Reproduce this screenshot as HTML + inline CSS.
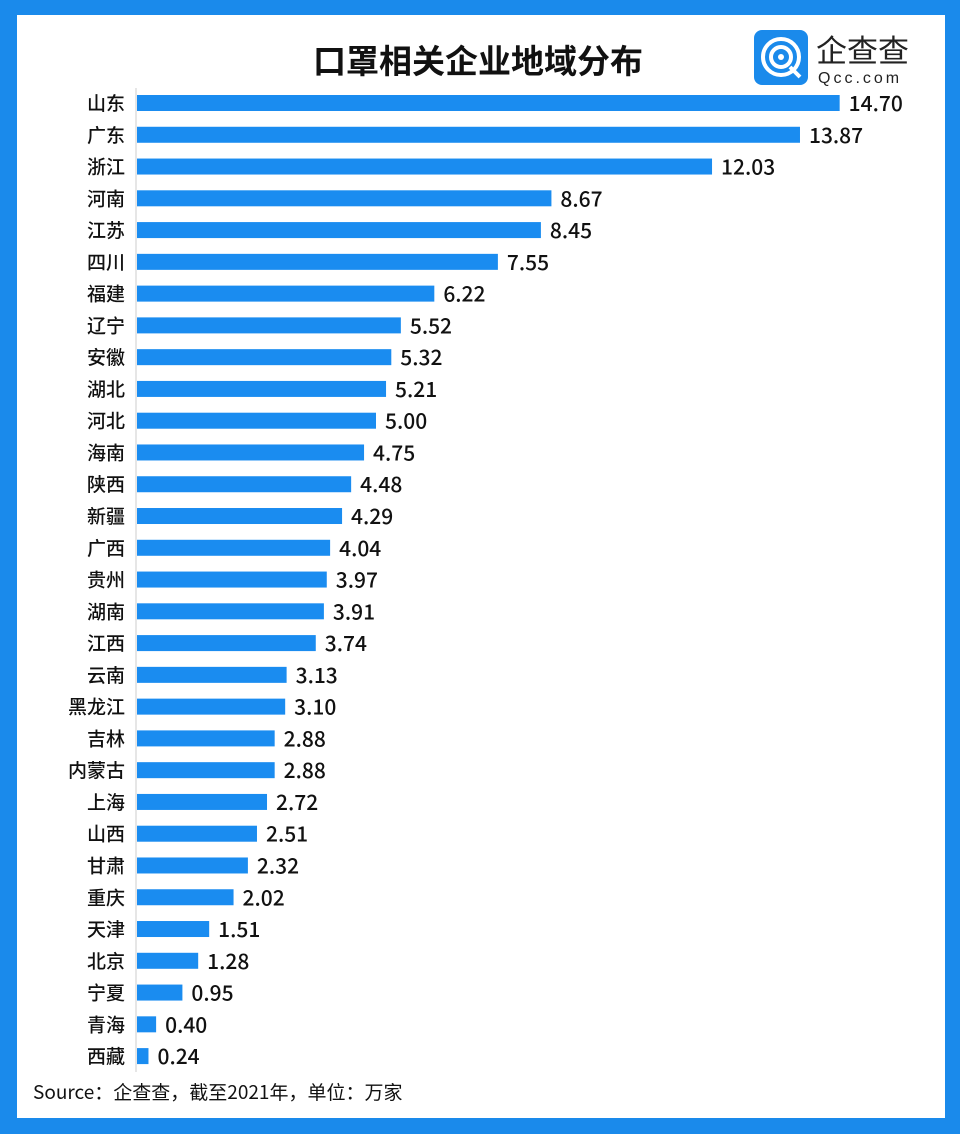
<!DOCTYPE html>
<html><head><meta charset="utf-8"><style>
body{margin:0;width:960px;height:1134px;background:#1a8aeb;overflow:hidden;font-family:"Liberation Sans","Noto Sans CJK SC",sans-serif}
#panel{position:absolute;left:17px;top:15px;width:928px;height:1103px;background:#fff}
</style></head><body>
<div id="panel"></div>
<svg width="960" height="1134" style="position:absolute;left:0;top:0">
<text x="478" y="73" text-anchor="middle" font-size="33" font-weight="bold" fill="#111" font-family="Noto Sans CJK SC,sans-serif">口罩相关企业地域分布</text>
<g>
<rect x="754" y="30" width="54" height="55" rx="8" fill="#1a8aeb"/>
<circle cx="781" cy="57" r="18" fill="none" stroke="#fff" stroke-width="4"/>
<circle cx="781" cy="57" r="10" fill="none" stroke="#fff" stroke-width="4"/>
<circle cx="781" cy="57" r="3" fill="#fff"/>
<line x1="790" y1="67" x2="800" y2="77" stroke="#fff" stroke-width="4"/>
<text x="816" y="62" font-size="31" fill="#222" font-family="Noto Sans CJK SC,sans-serif">企查查</text>
<text x="818" y="83" font-size="16" fill="#222" letter-spacing="3">Qcc.com</text>
</g>
<line x1="136" y1="88" x2="136" y2="1072" stroke="#ccc" stroke-width="1"/>
<g id="bars"></g>
<text x="33" y="1099" font-size="19" fill="#111" font-family="Noto Sans CJK SC,sans-serif">Source：企查查，截至2021年，单位：万家</text>
</svg>
<script>
const categories=["山东","广东","浙江","河南","江苏","四川","福建","辽宁","安徽","湖北","河北","海南","陕西","新疆","广西","贵州","湖南","江西","云南","黑龙江","吉林","内蒙古","上海","山西","甘肃","重庆","天津","北京","宁夏","青海","西藏"];
const values=[14.70,13.87,12.03,8.67,8.45,7.55,6.22,5.52,5.32,5.21,5.00,4.75,4.48,4.29,4.04,3.97,3.91,3.74,3.13,3.10,2.88,2.88,2.72,2.51,2.32,2.02,1.51,1.28,0.95,0.40,0.24];
const labels=values.map(v=>v.toFixed(2));
const x0=137, xScale=v=>x0+v*47.8;
const yScale=i=>103+i*31.77;
const g=document.getElementById('bars');
const NS='http://www.w3.org/2000/svg';
categories.forEach((c,i)=>{
  const y=yScale(i);
  const r=document.createElementNS(NS,'rect');
  r.setAttribute('x',x0);r.setAttribute('y',y-8);r.setAttribute('width',xScale(values[i])-x0);r.setAttribute('height',16);r.setAttribute('fill','#1a8cf0');
  
  
  g.appendChild(r);
  const t=document.createElementNS(NS,'text');
  t.setAttribute('x',125);t.setAttribute('y',y+7);t.setAttribute('text-anchor','end');t.setAttribute('font-size','19');t.setAttribute('fill','#111');t.setAttribute('font-weight','500');t.setAttribute('font-family','Noto Sans CJK SC,sans-serif');
  t.textContent=c;
  
  
  g.appendChild(t);
  const v=document.createElementNS(NS,'text');
  v.setAttribute('x',xScale(values[i])+9);v.setAttribute('y',y+8);v.setAttribute('font-size','21');v.setAttribute('fill','#111');v.setAttribute('font-weight','500');v.setAttribute('font-family','Noto Sans CJK SC,sans-serif');
  v.textContent=labels[i];
  
  
  g.appendChild(v);
});
</script>
</body></html>
